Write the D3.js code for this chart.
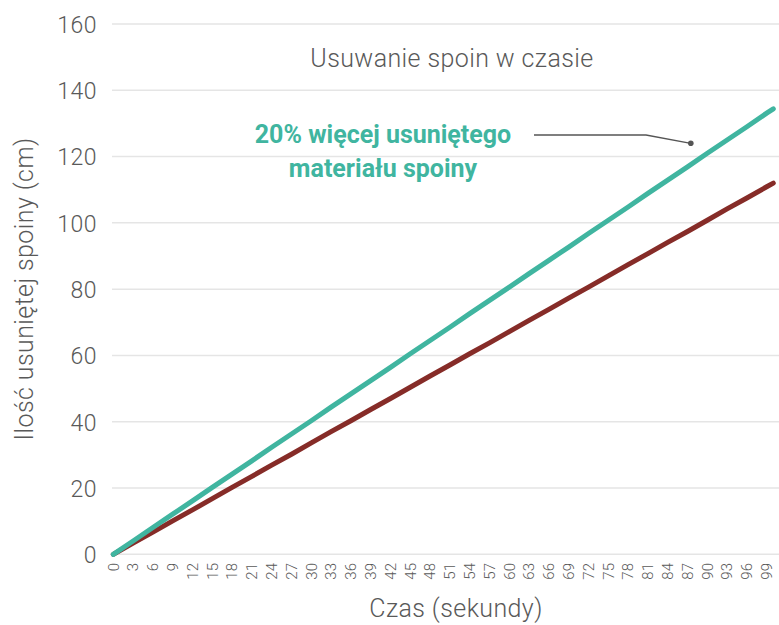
<!DOCTYPE html>
<html>
<head>
<meta charset="utf-8">
<script src="https://cdn.jsdelivr.net/npm/d3@7/dist/d3.min.js"></script>
<style>
  html, body { margin: 0; padding: 0; background: #fff; }
  svg text { font-family: Roboto, "DejaVu Sans", sans-serif; }
</style>
</head>
<body>
<svg id="chart" width="779" height="625"></svg>
<script>
// Data
const seconds = [0,3,6,9,12,15,18,21,24,27,30,33,36,39,42,45,48,51,54,57,60,63,66,69,72,75,78,81,84,87,90,93,96,99,100];
const standardValues = [0,3.4,6.7,10.1,13.4,16.8,20.2,23.5,26.9,30.2,33.6,37.0,40.3,43.7,47.0,50.4,53.8,57.1,60.5,63.8,67.2,70.6,73.9,77.3,80.6,84.0,87.4,90.7,94.1,97.4,100.8,104.2,107.5,110.9,112.0];
const improvedValues = [0,4.0,8.1,12.1,16.1,20.2,24.2,28.2,32.3,36.3,40.3,44.4,48.4,52.4,56.4,60.5,64.5,68.5,72.6,76.6,80.6,84.7,88.7,92.7,96.8,100.8,104.8,108.9,112.9,116.9,121.0,125.0,129.0,133.1,134.4];
const xTickLabels = [0,3,6,9,12,15,18,21,24,27,30,33,36,39,42,45,48,51,54,57,60,63,66,69,72,75,78,81,84,87,90,93,96,99];
const yTickLabels = [0,20,40,60,80,100,120,140,160];
const titleText = "Usuwanie spoin w czasie";
const xTitle = "Czas (sekundy)";
const yTitle = "Ilość usuniętej spoiny (cm)";
const annotationLines = ["20% więcej usuniętego", "materiału spoiny"];
const annotationPoint = [87.5, 124];

const svg = d3.select("#chart");
const textColor = "#595959";
const teal = "#40b5a0";
const red = "#862c28";

const x = d3.scaleLinear().domain([0, 100]).range([113.3, 773.3]);
const y = d3.scaleLinear().domain([0, 160]).range([554.3, 24]);

// Grid
svg.append("g").selectAll("line").data(yTickLabels).join("line")
  .attr("x1", 112).attr("x2", 779)
  .attr("y1", d => y(d)).attr("y2", d => y(d))
  .attr("stroke", "#e5e5e5").attr("stroke-width", 1.5);

// y axis
const yAxis = d3.axisLeft(y).tickValues(yTickLabels).tickSize(0).tickPadding(0);
const gy = svg.append("g").attr("transform", "translate(97,0)").call(yAxis);
gy.select(".domain").remove();
gy.selectAll("text")
  .attr("fill", textColor)
  .style("font-size", "23px")
  .style("font-weight", 300)
  .style("letter-spacing", "0.5px")
  .attr("dy", "0.36em");

// x axis
const xAxis = d3.axisBottom(x).tickValues(xTickLabels).tickSize(0).tickPadding(0);
const gx = svg.append("g").attr("transform", "translate(0,563)").call(xAxis);
gx.select(".domain").remove();
gx.selectAll("text")
  .attr("fill", textColor)
  .style("font-size", "15px")
  .style("font-weight", 300)
  .attr("text-anchor", "end")
  .attr("transform", "rotate(-90)")
  .attr("x", 0)
  .attr("y", 0)
  .attr("dy", "0.35em");
gx.selectAll(".tick").attr("transform", d => `translate(${x(d)},0)`);

// Lines
const line = vals => d3.line().x((d, i) => x(seconds[i])).y(d => y(d))(vals);
svg.append("path").attr("d", line(standardValues))
  .attr("fill", "none").attr("stroke", red).attr("stroke-width", 5).attr("stroke-linecap", "round");
svg.append("path").attr("d", line(improvedValues))
  .attr("fill", "none").attr("stroke", teal).attr("stroke-width", 5).attr("stroke-linecap", "round");

// Title
svg.append("text").attr("x", 452).attr("y", 67).attr("text-anchor", "middle")
  .attr("fill", textColor).style("font-size", "25px").style("font-weight", 300)
  .style("letter-spacing", "0.4px")
  .text(titleText);

// Axis titles
svg.append("text").attr("x", 456).attr("y", 617).attr("text-anchor", "middle")
  .attr("fill", textColor).style("font-size", "25px").style("font-weight", 300)
  .style("letter-spacing", "0.4px")
  .text(xTitle);
svg.append("text").attr("transform", "translate(33,289) rotate(-90)").attr("text-anchor", "middle")
  .attr("fill", textColor).style("font-size", "25px").style("font-weight", 300)
  .style("letter-spacing", "0.4px")
  .text(yTitle);

// Annotation
svg.append("text").attr("x", 383).attr("y", 143).attr("text-anchor", "middle")
  .attr("fill", teal).style("font-size", "25px").style("font-weight", 700)
  .text(annotationLines[0]);
svg.append("text").attr("x", 383).attr("y", 177).attr("text-anchor", "middle")
  .attr("fill", teal).style("font-size", "25px").style("font-weight", 700)
  .text(annotationLines[1]);

const px = x(annotationPoint[0]), py = y(annotationPoint[1]);
svg.append("path")
  .attr("d", `M534,135 L646,135 L${px},${py}`)
  .attr("fill", "none").attr("stroke", "#555").attr("stroke-width", 1.3);
svg.append("circle").attr("cx", px).attr("cy", py).attr("r", 2.8).attr("fill", "#555");
</script>
</body>
</html>
